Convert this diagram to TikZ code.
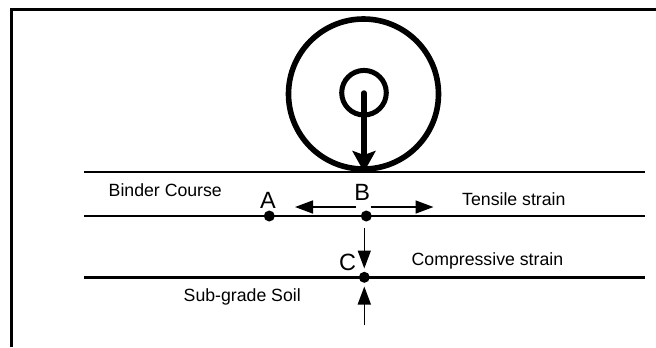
\documentclass[tikz,border=0pt]{standalone}
\usepackage{fontspec}
\setmainfont{Liberation Sans}
\usetikzlibrary{arrows.meta}
\tikzset{
 x=1bp,y=-1bp,
 layerline/.style={line width=2.6bp,black},
 dotpt/.style={circle,fill=black,inner sep=0pt,minimum size=11bp},
 biglabel/.style={font=\fontsize{23.5bp}{24bp}\selectfont,inner sep=0pt,anchor=base},
 smalllabel/.style={font=\fontsize{17.7bp}{20bp}\selectfont,inner sep=0pt,anchor=base west},
 strain/.style={line width=1.6bp,-{Triangle[length=18bp,width=13bp]}},
}
\begin{document}
\begin{tikzpicture}
\useasboundingbox (0,0) rectangle (656,347);
\fill[white] (0,0) rectangle (656,347);
\draw[line width=3.6bp,line cap=butt] (11.6,347) -- (11.6,9.5) -- (656,9.5);
% wheel
\coordinate (wheel) at (363.5,94);
\coordinate (hub) at (364,92.7);
\draw[line width=5.6bp] (wheel) circle (75);
\draw[line width=5bp] (hub) circle (22.3);
% layers
\coordinate (l1a) at (84,172); \coordinate (l1b) at (645,172);
\coordinate (l2a) at (84,215.8); \coordinate (l2b) at (645,215.8);
\coordinate (l3a) at (84,277.2); \coordinate (l3b) at (645,277.2);
\draw[layerline] (l1a) -- (l1b);
\draw[layerline] (l2a) -- (l2b);
\draw[layerline] (l3a) -- (l3b);
% load arrow
\coordinate (loadtop) at (364,93);
\coordinate (loadtip) at (364,172);
\draw[line width=5.4bp,line cap=round,-{Stealth[length=21bp,width=23bp,inset=4bp]}] (loadtop) -- (loadtip);
% points
\node[dotpt] (A) at (269.3,216) {};
\node[dotpt] (B) at (366.3,216) {};
\node[dotpt] (C) at (364.3,277.3) {};
\node[biglabel] (la) at (268,208) {A};
\node[biglabel] (lb) at (362.3,200.7) {B};
\node[biglabel] (lc) at (347.5,270.7) {C};
% strain arrows
\coordinate (bl0) at (356,207); \coordinate (bl1) at (295,207);
\coordinate (br0) at (370.7,207); \coordinate (br1) at (433.5,207);
\coordinate (cd0) at (364.3,228); \coordinate (cd1) at (364.3,268.5);
\coordinate (cu0) at (364.3,325); \coordinate (cu1) at (364.3,286.5);
\draw[strain] (bl0) -- (bl1);
\draw[strain] (br0) -- (br1);
\draw[strain] (cd0) -- (cd1);
\draw[strain] (cu0) -- (cu1);
% labels
\node[smalllabel] (t1) at (108.5,196.7) {Binder Course};
\node[smalllabel] (t2) at (462,205.7) {Tensile strain};
\node[smalllabel] (t3) at (411.5,265.7) {Compressive strain};
\node[smalllabel] (t4) at (183.5,301.7) {Sub-grade Soil};
\end{tikzpicture}
\end{document}
